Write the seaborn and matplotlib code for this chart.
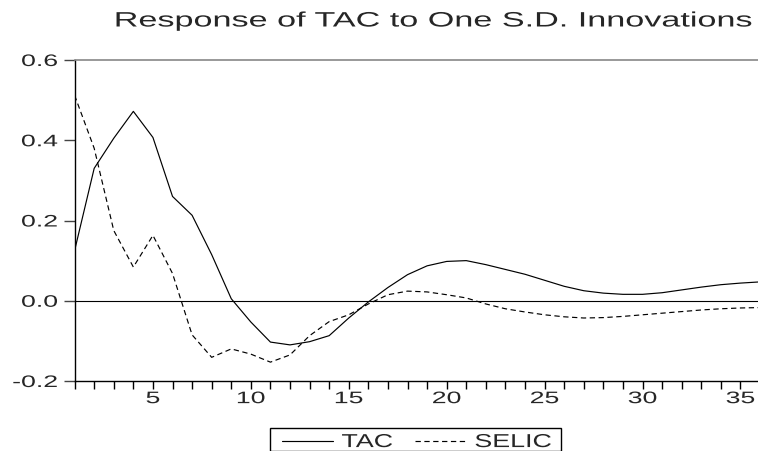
import matplotlib
matplotlib.use("Agg")
import matplotlib.pyplot as plt
import seaborn as sns
import numpy as np
import pandas as pd
from matplotlib.ticker import MultipleLocator, FixedLocator
from matplotlib.patheffects import AbstractPathEffect
from matplotlib.transforms import Affine2D
from matplotlib.patches import Rectangle

periods = list(range(1, 37))
tac = [0.125, 0.33, 0.405, 0.472, 0.407, 0.26, 0.213, 0.115, 0.005, -0.053,
       -0.103, -0.11, -0.102, -0.087, -0.043, -0.003, 0.033, 0.065, 0.087, 0.098,
       0.10, 0.09, 0.078, 0.066, 0.051, 0.036, 0.025, 0.019, 0.016, 0.016,
       0.02, 0.027, 0.034, 0.04, 0.044, 0.047]
selic = [0.512, 0.38, 0.175, 0.084, 0.163, 0.068, -0.085, -0.141, -0.12, -0.133,
         -0.153, -0.135, -0.087, -0.052, -0.035, -0.008, 0.015, 0.024, 0.022, 0.015,
         0.007, -0.008, -0.02, -0.028, -0.035, -0.04, -0.043, -0.042, -0.039, -0.035,
         -0.031, -0.027, -0.023, -0.02, -0.018, -0.017]
series_names = ["TAC", "SELIC"]
title = "Response of TAC to One S.D. Innovations"
yticks = [-0.2, 0.0, 0.2, 0.4, 0.6]
xticks = [5, 10, 15, 20, 25, 30, 35]


class Stretch(AbstractPathEffect):
    """Widen glyphs horizontally (the reference uses a stretched sans font)."""
    def __init__(self, sx, anchor="center"):
        super().__init__()
        self.sx = sx
        self.anchor = anchor

    def draw_path(self, renderer, gc, tpath, affine, rgbFace=None):
        bb = tpath.get_extents(affine)
        if self.anchor == "left":
            cx = bb.x0
        elif self.anchor == "right":
            cx = bb.x1
        else:
            cx = 0.5 * (bb.x0 + bb.x1)
        a = affine + Affine2D().translate(-cx, 0).scale(self.sx, 1).translate(cx, 0)
        renderer.draw_path(gc, tpath, a, rgbFace)


sns.set_style("ticks")
plt.rcParams["font.family"] = ["Liberation Sans", "DejaVu Sans"]

W, H = 758, 452
fig = plt.figure(figsize=(W / 100, H / 100), dpi=100)
ax = fig.add_axes([74.6 / W, 1 - 382 / H, (760 - 74.6) / W, (382 - 61) / H])

df = pd.DataFrame({"period": periods * 2,
                   "value": tac + selic,
                   "series": [series_names[0]] * len(periods) + [series_names[1]] * len(periods)})

sns.lineplot(data=df[df.series == series_names[0]], x="period", y="value", ax=ax,
             color="black", linewidth=0.85, label=series_names[0])
sns.lineplot(data=df[df.series == series_names[1]], x="period", y="value", ax=ax,
             color="black", linewidth=0.85, linestyle=(0, (4.5, 3)), label=series_names[1])

ax.axhline(0, color="black", linewidth=0.8, zorder=1)
ax.set_xlim(1, 36)
ax.set_ylim(-0.2, 0.6)
ax.set_xlabel("")
ax.set_ylabel("")

ax.yaxis.set_major_locator(FixedLocator(yticks))
ax.set_yticklabels([f"{v:.1f}" for v in yticks], fontsize=12)
ax.xaxis.set_major_locator(FixedLocator(xticks))
ax.xaxis.set_minor_locator(MultipleLocator(1))
ax.set_xticklabels([str(v) for v in xticks], fontsize=12)
ax.tick_params(axis="y", direction="out", length=8, width=1, color="#444444", pad=4.3)
ax.tick_params(axis="x", which="both", direction="out", length=5.8, width=1, color="black", pad=1.5)

for t in ax.get_yticklabels():
    t.set_path_effects([Stretch(1.6, "right")])
for t in ax.get_xticklabels():
    t.set_path_effects([Stretch(1.6, "center")])

for s in ["left", "bottom"]:
    ax.spines[s].set_color("black")
    ax.spines[s].set_linewidth(1)
ax.spines["top"].set_visible(True)
ax.spines["top"].set_color("#888888")
ax.spines["top"].set_linewidth(1.2)
ax.spines["right"].set_visible(False)

fig.text(434 / W, 1 - 22 / H, title, ha="center", va="center", fontsize=15,
         path_effects=[Stretch(1.64, "center")])

ax.get_legend().remove()
handles, labels = ax.get_legend_handles_labels()
leg = fig.legend(handles, labels, loc="center left", bbox_to_anchor=(282 / W, 1 - 443.5 / H),
                 ncol=2, frameon=False, fontsize=13.5,
                 handlelength=2.7, columnspacing=2.0, borderaxespad=0, borderpad=0,
                 handletextpad=0.48)
for t in leg.get_texts():
    t.set_path_effects([Stretch(1.43, "left")])
fig.add_artist(Rectangle((270 / W, 0), (561 - 270) / W, 1 - 429 / H,
                         transform=fig.transFigure, fill=False, edgecolor="black",
                         linewidth=1.0))

fig.savefig("out.png", dpi=100)
